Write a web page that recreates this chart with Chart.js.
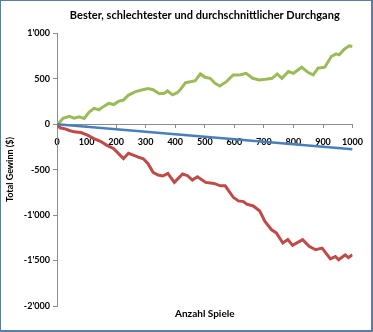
<!DOCTYPE html>
<html>
<head>
<meta charset="utf-8">
<script src="https://cdn.jsdelivr.net/npm/chart.js@4/dist/chart.umd.min.js"></script>
<style>
    body { margin: 0; background: #fff; }
    #wrap { position: relative; width: 373px; height: 332px; }
    #frame {
        position: absolute; left: 0; top: 0; right: 0; bottom: 0;
        border: 1px solid #5b7ca5; border-right-width: 2px; border-bottom-width: 2px;
        pointer-events: none;
    }
</style>
</head>
<body>
<div id="wrap">
    <canvas id="myChart" width="373" height="332"></canvas>
    <div id="frame"></div>
</div>
<script>
const bestGames = [0, 10, 20, 42, 58, 75, 92, 108, 125, 142, 158, 175, 192, 208, 225, 242, 264, 286, 308, 325,
    346, 363, 374, 391, 407, 418, 435, 452, 468, 485, 501, 518, 535, 551, 573, 596, 618, 640, 662, 684,
    706, 728, 745, 761, 783, 800, 828, 850, 867, 883, 906, 928, 944, 955, 972, 989, 1000]
const bestWin = [0, 25, 63, 85, 65, 80, 63, 130, 174, 158, 195, 228, 215, 250, 265, 320, 355, 375, 392, 378,
    335, 339, 365, 322, 346, 383, 456, 467, 478, 552, 515, 504, 449, 420, 467, 541, 541, 559, 504, 486,
    493, 504, 552, 504, 578, 559, 626, 567, 541, 615, 626, 743, 773, 762, 824, 861, 854]

const worstGames = [0, 10, 25, 42, 58, 81, 103, 125, 147, 169, 192, 214, 225, 242, 258, 275, 292, 308, 325, 342,
    358, 375, 397, 425, 442, 458, 475, 503, 531, 553, 569, 597, 614, 631, 642, 664, 686, 703, 725, 742,
    764, 781, 797, 831, 853, 875, 897, 925, 942, 953, 975, 986, 1000]
const worstWin = [0, -40, -50, -70, -85, -93, -122, -159, -189, -233, -270, -344, -378, -320, -340, -363, -381, -435, -530, -560,
    -570, -541, -641, -548, -567, -615, -578, -641, -652, -678, -678, -807, -844, -852, -881, -900, -955, -1067, -1159, -1196,
    -1307, -1270, -1333, -1270, -1344, -1381, -1363, -1481, -1455, -1492, -1437, -1467, -1437]

const avgGames = [0, 1000]
const avgWin = [0, -275]

const title = 'Bester, schlechtester und durchschnittlicher Durchgang'
const xTitle = 'Anzahl Spiele'
const yTitle = 'Total Gewinn ($)'

const toPoints = (xs, ys) => xs.map((x, i) => ({x: x, y: ys[i]}))

const fontName = 'Lato, "Liberation Sans", sans-serif'

// 1'000 style thousands separator
const swiss = (v) => {
    const s = String(Math.abs(v)).replace(/\B(?=(\d{3})+(?!\d))/g, "'")
    return (v < 0 ? '-' : '') + s
}

const config = {
    type: 'line',
    data: {
        datasets: [
            {
                label: 'Durchschnitt',
                data: toPoints(avgGames, avgWin),
                borderColor: '#4a7ebb',
                borderWidth: 2.5,
                pointRadius: 0
            },
            {
                label: 'Bester',
                data: toPoints(bestGames, bestWin),
                borderColor: '#9bbb59',
                borderWidth: 3,
                pointRadius: 0
            },
            {
                label: 'Schlechtester',
                data: toPoints(worstGames, worstWin),
                borderColor: '#be4b48',
                borderWidth: 3,
                pointRadius: 0
            }
        ]
    },
    options: {
        responsive: false,
        animation: false,
        devicePixelRatio: 1,
        layout: {padding: {left: 2, right: 15, top: 0, bottom: 6}},
        plugins: {
            legend: {display: false},
            tooltip: {enabled: false},
            title: {
                display: true,
                text: title,
                fullSize: false,
                color: '#000',
                font: {family: fontName, size: 11, weight: 'bold'},
                padding: {top: 9, bottom: 11}
            },
            subtitle: {
                display: true,
                text: xTitle,
                position: 'bottom',
                fullSize: false,
                color: '#000',
                font: {family: fontName, size: 10, weight: 'bold'},
                padding: {top: 2, bottom: 6}
            }
        },
        scales: {
            x: {
                type: 'linear',
                position: {y: 0},
                min: 0,
                max: 1000,
                grid: {drawOnChartArea: false, drawTicks: true, tickLength: 3, color: '#8c8c8c'},
                border: {color: '#8c8c8c'},
                ticks: {
                    stepSize: 100,
                    maxRotation: 0,
                    padding: 10,
                    color: '#000',
                    font: {family: fontName, size: 9, weight: 'bold'},
                    callback: (v) => String(v)
                }
            },
            y: {
                min: -2000,
                max: 1000,
                afterFit: (s) => { s.width = 55 },
                grid: {drawOnChartArea: false, drawTicks: true, tickLength: 4, color: '#8c8c8c'},
                border: {color: '#8c8c8c'},
                ticks: {
                    stepSize: 500,
                    padding: 3,
                    color: '#000',
                    font: {family: fontName, size: 9, weight: 'bold'},
                    callback: (v) => swiss(v)
                },
                title: {
                    display: true,
                    text: yTitle,
                    color: '#000',
                    font: {family: fontName, size: 9, weight: 'bold'},
                    padding: {top: 3, bottom: 0}
                }
            }
        }
    }
}

const myChart = new Chart(document.getElementById('myChart'), config)
</script>
</body>
</html>
